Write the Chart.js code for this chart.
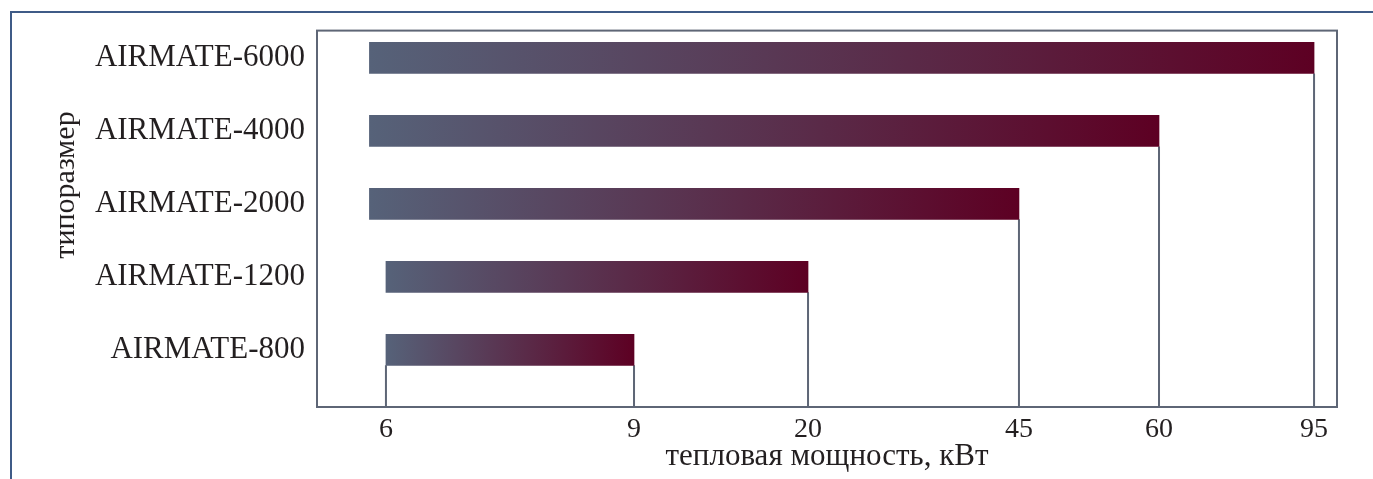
<!DOCTYPE html>
<html lang="ru">
<head>
<meta charset="utf-8">
<title>AIRMATE — тепловая мощность</title>
<script src="https://cdn.jsdelivr.net/npm/chart.js@4.4.1/dist/chart.umd.min.js"></script>
<style>
	html, body { margin: 0; padding: 0; background: #fff; }
	body { width: 1373px; height: 479px; position: relative; overflow: hidden; }
	.frame {
		position: absolute; left: 10px; top: 11px; right: 0; bottom: 0;
		border-top: 2px solid #3f5b87; border-left: 2px solid #3f5b87;
	}
	#chart { position: absolute; left: 0; top: 0; }
</style>
</head>
<body>
<div class="frame"></div>
<canvas id="chart" width="1373" height="479"></canvas>
<script>
// data, top row first
const models = ["AIRMATE-6000", "AIRMATE-4000", "AIRMATE-2000", "AIRMATE-1200", "AIRMATE-800"];
const powerFrom = [5.8, 5.8, 5.8, 6, 6];
const powerTo = [95, 60, 45, 20, 9];
const tickValues = [6, 9, 20, 45, 60, 95];

// the power axis is not linear: where each tick sits along it (0..1)
const tickSpots = [0.0676, 0.3108, 0.4814, 0.6882, 0.8255, 0.9775];
// extra room above the first row and below the last one (in rows)
const rowPadTop = 0.374;
const rowPadBottom = 0.783;

const textColor = "#231f20";
const lineColor = "#5e6676";
const fontFamily = "'Liberation Serif', 'Times New Roman', serif";

// linear scale, but piecewise between the tick values
class StepScale extends Chart.LinearScale {
	buildTicks() {
		return tickValues.map((value) => ({ value }));
	}
	getPixelForValue(value) {
		let i = 0;
		while (i < tickValues.length - 2 && value > tickValues[i + 1]) i++;
		const t = (value - tickValues[i]) / (tickValues[i + 1] - tickValues[i]);
		return this.getPixelForDecimal(tickSpots[i] + t * (tickSpots[i + 1] - tickSpots[i]));
	}
	getValueForPixel(pixel) {
		const d = this.getDecimalForPixel(pixel);
		let i = 0;
		while (i < tickSpots.length - 2 && d > tickSpots[i + 1]) i++;
		const t = (d - tickSpots[i]) / (tickSpots[i + 1] - tickSpots[i]);
		return tickValues[i] + t * (tickValues[i + 1] - tickValues[i]);
	}
}
StepScale.id = "step";
StepScale.defaults = Chart.LinearScale.defaults;

// category scale with uneven room at both ends
class RowScale extends Chart.CategoryScale {
	configure() {
		super.configure();
		this._startValue = this.min - rowPadTop;
		this._valueRange = this.max - this.min + rowPadTop + rowPadBottom;
	}
}
RowScale.id = "rows";
RowScale.defaults = Chart.CategoryScale.defaults;

Chart.register(StepScale, RowScale);

function barGradient(context) {
	const chart = context.chart;
	const x = chart.scales.x;
	const raw = context.raw;
	if (!x || !raw) return "#5d0023";
	const x0 = x.getPixelForValue(raw[0]);
	const x1 = x.getPixelForValue(raw[1]);
	// scales are not laid out yet on the first pass
	if (!isFinite(x0) || !isFinite(x1) || x0 === x1) return "#5d0023";
	const g = chart.ctx.createLinearGradient(x0, 0, x1, 0);
	g.addColorStop(0, "#566279");
	g.addColorStop(1, "#5d0023");
	return g;
}

// frame round the plot, drop lines from the bar ends, y title
const guideLines = {
	id: "guideLines",
	beforeDatasetsDraw(chart) {
		const { ctx, chartArea } = chart;
		const bars = chart.getDatasetMeta(0).data;
		ctx.save();
		ctx.strokeStyle = lineColor;
		ctx.lineWidth = 2;
		ctx.strokeRect(chartArea.left, chartArea.top, chartArea.width, chartArea.height);
		ctx.beginPath();
		bars.forEach((bar, i) => {
			const bottom = bar.y + bar.height / 2;
			ctx.moveTo(bar.x, bottom);
			ctx.lineTo(bar.x, chartArea.bottom);
			if (i === bars.length - 1) {
				ctx.moveTo(bar.base, bottom);
				ctx.lineTo(bar.base, chartArea.bottom);
			}
		});
		ctx.stroke();
		ctx.restore();
	},
	afterDraw(chart) {
		const ctx = chart.ctx;
		ctx.save();
		ctx.translate(66, 185);
		ctx.rotate(-Math.PI / 2);
		ctx.font = "30px " + fontFamily;
		ctx.fillStyle = textColor;
		ctx.textAlign = "center";
		ctx.textBaseline = "middle";
		ctx.fillText("типоразмер", 0, 0);
		ctx.restore();
	},
};

Chart.defaults.font.family = fontFamily;
Chart.defaults.color = textColor;

new Chart(document.getElementById("chart"), {
	type: "bar",
	data: {
		labels: models,
		datasets: [
			{
				data: models.map((m, i) => [powerFrom[i], powerTo[i]]),
				backgroundColor: barGradient,
				borderWidth: 0,
				borderSkipped: false,
				barThickness: 31,
			},
		],
	},
	options: {
		indexAxis: "y",
		responsive: false,
		animation: false,
		layout: { padding: { top: 28, right: 36, bottom: 0, left: 0 } },
		plugins: { legend: { display: false }, tooltip: { enabled: false } },
		scales: {
			x: {
				type: "step",
				grid: { display: false, drawTicks: false },
				border: { display: false },
				ticks: {
					autoSkip: false,
					maxRotation: 0,
					padding: 6,
					font: { size: 28 },
					callback: (v) => String(v),
				},
				title: {
					display: true,
					text: "тепловая мощность, кВт",
					font: { size: 31 },
					padding: { top: 0, bottom: 4 },
				},
				afterFit: (scale) => {
					scale.height = 72;
				},
			},
			y: {
				type: "rows",
				grid: { display: false, drawTicks: false },
				border: { display: false },
				ticks: { padding: 12, font: { size: 31 } },
				afterFit: (scale) => {
					scale.width = 317;
				},
			},
		},
	},
	plugins: [guideLines],
});
</script>
</body>
</html>
